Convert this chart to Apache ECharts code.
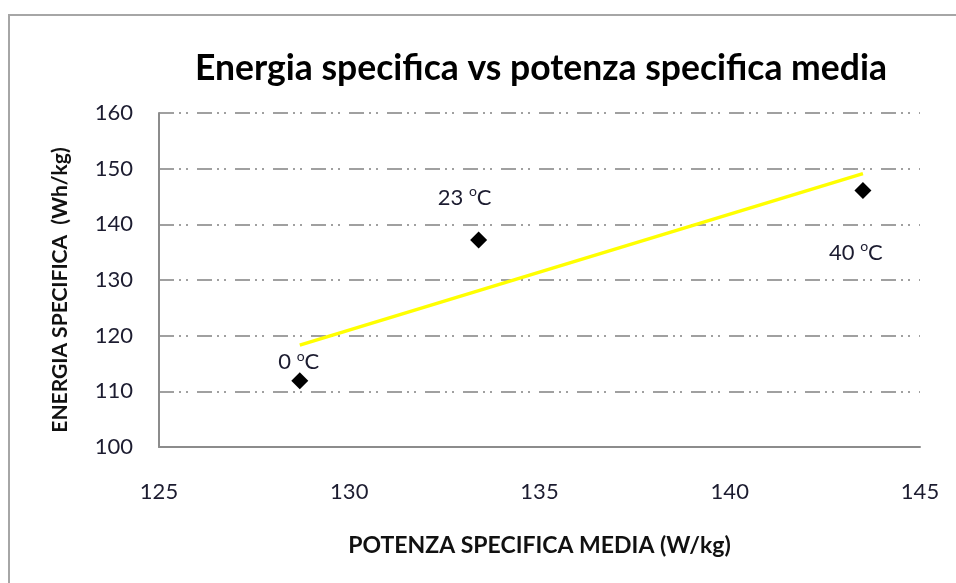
<!DOCTYPE html>
<html>
<head>
<meta charset="utf-8">
<script src="https://cdn.jsdelivr.net/npm/echarts@6/dist/echarts.min.js"></script>
<style>
  html, body { margin: 0; padding: 0; background: #fff; }
  #chart { width: 956px; height: 583px; }
</style>
</head>
<body>
<div id="chart"></div>
<script>
const powerValues = [128.7, 133.4, 143.5];
const energyValues = [111.9, 137.2, 146.1];
const tempLabels = ['0', '23', '40'];
const trendX = [128.7, 143.5];
const trendY = [118.3, 149.1];
const xTicks = [125, 130, 135, 140, 145];
const yTicks = [100, 110, 120, 130, 140, 150, 160];

const labelOffsets = [[-1, 6], [-14, -18], [-7, 87]];

const chart = echarts.init(document.getElementById('chart'));
const fontFam = 'Lato, "Open Sans", sans-serif';
const txtColor = '#1c1c30';

const pointData = powerValues.map((x, i) => ({
  value: [x, energyValues[i]],
  label: {
    show: true,
    position: 'top',
    offset: labelOffsets[i],
    formatter: '{a|' + tempLabels[i] + ' }{s|o}{a|C}',
    rich: {
      a: { fontSize: 22, color: txtColor, fontFamily: fontFam, lineHeight: 24, verticalAlign: 'bottom' },
      s: { fontSize: 14, color: txtColor, fontFamily: fontFam, lineHeight: 24, verticalAlign: 'top' }
    }
  }
}));

chart.setOption({
  animation: false,
  backgroundColor: '#fff',
  title: {
    text: 'Energia specifica vs potenza specifica media',
    left: 536,
    textAlign: 'center',
    top: 46,
    textStyle: { fontFamily: fontFam, fontWeight: 'bold', fontSize: 35.5, color: '#000' }
  },
  graphic: [{
    type: 'rect',
    shape: { x: 9, y: 15, width: 960, height: 600 },
    style: { fill: 'none', stroke: '#a6a6a6', lineWidth: 2 },
    silent: true,
    z: -1
  }],
  grid: { left: 159, right: 36, top: 113, bottom: 136 },
  xAxis: {
    type: 'value',
    min: xTicks[0], max: xTicks[xTicks.length - 1], interval: 5,
    name: 'POTENZA SPECIFICA MEDIA (W/kg)',
    nameLocation: 'middle',
    nameGap: 87,
    nameTextStyle: { fontFamily: fontFam, fontWeight: 'bold', fontSize: 23, color: '#111' },
    axisLine: { show: true, onZero: false, lineStyle: { color: '#8c8c8c', width: 2 } },
    axisTick: { show: false },
    splitLine: { show: false },
    axisLabel: { margin: 34, fontFamily: fontFam, fontSize: 22, color: txtColor }
  },
  yAxis: {
    type: 'value',
    min: yTicks[0], max: yTicks[yTicks.length - 1], interval: 10,
    name: 'ENERGIA SPECIFICA  (Wh/kg)',
    nameLocation: 'middle',
    nameGap: 88,
    nameTextStyle: { fontFamily: fontFam, fontWeight: 'bold', fontSize: 21, color: '#111', padding: [0, 20, 0, 0] },
    axisLine: { show: true, onZero: false, lineStyle: { color: '#8c8c8c', width: 2 } },
    axisTick: { show: false },
    axisLabel: { margin: 26, fontFamily: fontFam, fontSize: 22, color: txtColor },
    splitLine: {
      show: true,
      lineStyle: { color: '#a0a0a0', width: 2, type: [15, 5, 2, 5, 2, 9] }
    }
  },
  series: [
    {
      type: 'line',
      data: trendX.map((x, i) => [x, trendY[i]]),
      showSymbol: false,
      symbol: 'none',
      lineStyle: { color: '#ffff00', width: 3.5 },
      z: 2
    },
    {
      type: 'scatter',
      data: pointData,
      symbol: 'diamond',
      symbolSize: [17, 17],
      itemStyle: { color: '#000', opacity: 1 },
      z: 3
    }
  ]
});
</script>
</body>
</html>
